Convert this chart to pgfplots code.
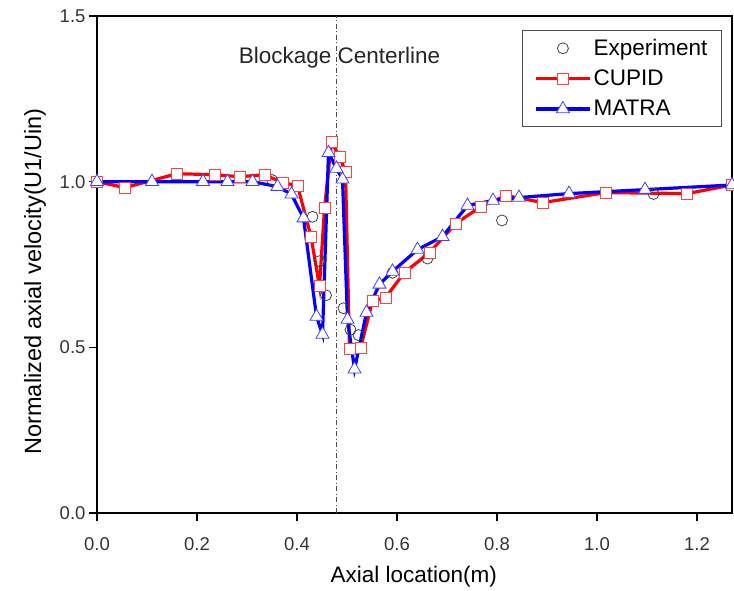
\documentclass[border=0pt]{standalone}
\usepackage{pgfplots}
\pgfplotsset{compat=1.18}
\usepackage{fontspec}
\setmainfont{Liberation Sans}
\pgfplotsset{
  linelegend/.style={legend image code/.code={\draw[mark repeat=2,mark phase=2,##1] plot coordinates {(0cm,0cm) (0.95cm,0cm) (1.9cm,0cm)};}},
  marklegend/.style={legend image code/.code={\draw[##1] plot coordinates {(0.95cm,0cm)};}},
}
\begin{document}
\begin{tikzpicture}
\begin{axis}[
  at={(0,0)}, anchor=south west,
  scale only axis, width=635pt, height=497pt,
  xmin=0, xmax=1.27, ymin=0, ymax=1.5,
  xtick={0,0.2,0.4,0.6,0.8,1.0,1.2},
  ytick={0,0.5,1.0,1.5},
  tick pos=left, tick align=outside,
  major tick length=8pt,
  axis line style={line width=1.3pt},
  every tick/.style={line width=1.3pt, black},
  /pgf/number format/assume math mode=true,
  /pgf/number format/.cd, fixed, fixed zerofill, precision=1,
  /pgfplots/.cd,
  tick label style={font=\fontsize{18.5}{20}\selectfont, text=black!80},
  xticklabel style={yshift=-13pt},
  xlabel={Axial location(m)},
  ylabel={Normalized axial velocity(U1/Uin)},
  xlabel style={font=\fontsize{22.5}{26}\selectfont, at={(axis description cs:0.499,-0.129)}, anchor=center},
  ylabel style={font=\fontsize{23.5}{26}\selectfont, at={(axis description cs:-0.0976,0.466)}, anchor=center},
  legend style={at={(0.984,0.972)}, anchor=north east, draw=black!70, line width=1pt,
    font=\fontsize{22.5}{26}\selectfont, row sep=9pt, inner xsep=12pt, inner ysep=7pt,
    cells={anchor=west}},
]
\addplot[forget plot, black!70, line width=0.9pt, dash pattern=on 5pt off 2.5pt on 1pt off 2.5pt] coordinates {(0.479,0) (0.479,1.5)};
\addplot[only marks, mark=o, mark size=5.5pt, mark options={draw=black!75, line width=0.8pt}, marklegend]
coordinates {
(0.0,1.0) (0.35,1.005) (0.431,0.894) (0.445,0.76) (0.458,0.657) (0.493,0.618)
(0.507,0.553) (0.523,0.537) (0.591,0.725) (0.661,0.768) (0.81,0.883) (1.113,0.963)
};
\addlegendentry{Experiment}
\addplot[red, line width=3.2pt, mark=square*, mark size=5.5pt,
  mark options={fill=white, draw=red!75, line width=0.8pt, solid}, linelegend]
coordinates {
(0.0,1.0) (0.056,0.982) (0.16,1.024) (0.236,1.021) (0.285,1.015) (0.335,1.021)
(0.371,0.997) (0.401,0.988) (0.428,0.834) (0.445,0.684) (0.455,0.92) (0.469,1.12)
(0.485,1.075) (0.497,1.03) (0.505,0.494) (0.527,0.497) (0.551,0.64) (0.577,0.65)
(0.615,0.726) (0.665,0.786) (0.717,0.873) (0.768,0.925) (0.818,0.958) (0.892,0.937)
(1.018,0.967) (1.18,0.964) (1.27,0.99)
};
\addlegendentry{CUPID}
\addplot[blue, line width=3.2pt, mark=triangle*, mark size=7.5pt,
  mark options={fill=white, draw=blue!75, line width=0.8pt, solid}, linelegend]
coordinates {
(0.0,1.0) (0.11,1.0) (0.212,1.0) (0.261,1.0) (0.311,1.0) (0.361,0.985) (0.389,0.962)
(0.413,0.89) (0.439,0.593) (0.451,0.539) (0.463,1.087) (0.479,1.04) (0.491,1.007)
(0.501,0.584) (0.515,0.434) (0.539,0.605) (0.565,0.69) (0.591,0.729) (0.641,0.795)
(0.691,0.834) (0.741,0.928) (0.792,0.943) (0.844,0.952) (0.944,0.964) (1.096,0.976)
(1.27,0.99)
};
\addlegendentry{MATRA}
\node[font=\fontsize{22.5}{26}\selectfont, text=black!85] at (axis cs:0.485,1.373) {Blockage Centerline};
\end{axis}
\pgfresetboundingbox
\useasboundingbox (-97pt,-77pt) rectangle (637pt,513pt);
\end{tikzpicture}
\end{document}
